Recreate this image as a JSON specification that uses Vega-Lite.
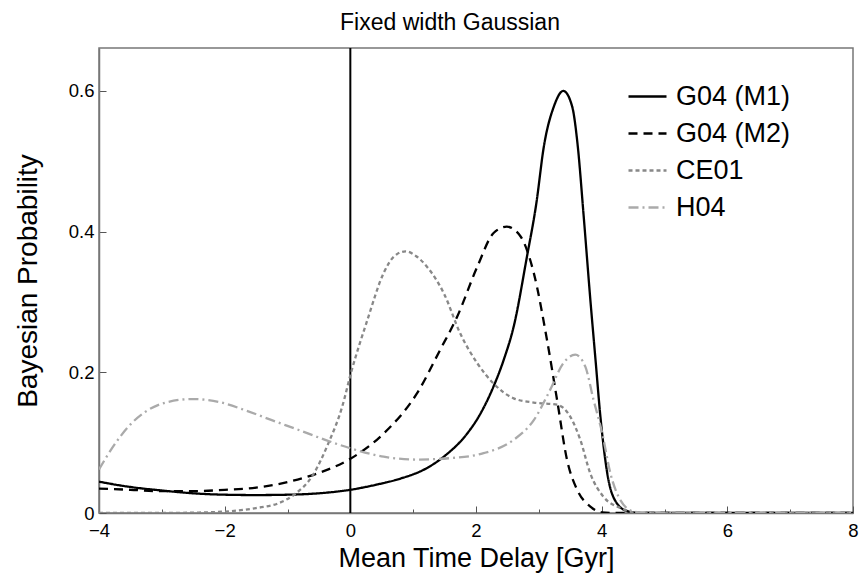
{
  "$schema": "https://vega.github.io/schema/vega-lite/v6.json",
  "width": 754,
  "height": 465,
  "autosize": {"type": "none"},
  "padding": {"left": 99, "top": 48, "right": 8, "bottom": 62},
  "background": "white",
  "config": {
    "font": "Liberation Sans",
    "view": {"stroke": "#777", "strokeWidth": 1.5},
    "axis": {"domainColor": "#777", "domainWidth": 1.5, "tickColor": "#555", "tickWidth": 1, "labelColor": "black", "titleColor": "black", "labelFont": "Liberation Sans", "titleFont": "Liberation Sans", "titleFontWeight": "normal", "grid": false}
  },
  "title": {"text": "Fixed width Gaussian", "fontSize": 23, "fontWeight": "normal", "font": "Liberation Sans", "color": "black", "offset": 12, "dx": -26},
  "datasets": {
    "curves": [
      {"t": -4, "p": 0.0445, "series": "G04 (M1)"},
      {"t": -3.5, "p": 0.037, "series": "G04 (M1)"},
      {"t": -3, "p": 0.032, "series": "G04 (M1)"},
      {"t": -2.5, "p": 0.028, "series": "G04 (M1)"},
      {"t": -2, "p": 0.026, "series": "G04 (M1)"},
      {"t": -1.5, "p": 0.0255, "series": "G04 (M1)"},
      {"t": -1, "p": 0.026, "series": "G04 (M1)"},
      {"t": -0.5, "p": 0.028, "series": "G04 (M1)"},
      {"t": 0, "p": 0.033, "series": "G04 (M1)"},
      {"t": 0.4, "p": 0.04, "series": "G04 (M1)"},
      {"t": 0.8, "p": 0.049, "series": "G04 (M1)"},
      {"t": 1.2, "p": 0.063, "series": "G04 (M1)"},
      {"t": 1.5, "p": 0.081, "series": "G04 (M1)"},
      {"t": 1.86, "p": 0.113, "series": "G04 (M1)"},
      {"t": 2.05, "p": 0.138, "series": "G04 (M1)"},
      {"t": 2.28, "p": 0.18, "series": "G04 (M1)"},
      {"t": 2.45, "p": 0.22, "series": "G04 (M1)"},
      {"t": 2.6, "p": 0.265, "series": "G04 (M1)"},
      {"t": 2.81, "p": 0.364, "series": "G04 (M1)"},
      {"t": 2.96, "p": 0.44, "series": "G04 (M1)"},
      {"t": 3.08, "p": 0.521, "series": "G04 (M1)"},
      {"t": 3.24, "p": 0.578, "series": "G04 (M1)"},
      {"t": 3.39, "p": 0.6, "series": "G04 (M1)"},
      {"t": 3.53, "p": 0.578, "series": "G04 (M1)"},
      {"t": 3.62, "p": 0.521, "series": "G04 (M1)"},
      {"t": 3.71, "p": 0.426, "series": "G04 (M1)"},
      {"t": 3.82, "p": 0.303, "series": "G04 (M1)"},
      {"t": 3.9, "p": 0.22, "series": "G04 (M1)"},
      {"t": 3.98, "p": 0.137, "series": "G04 (M1)"},
      {"t": 4.09, "p": 0.056, "series": "G04 (M1)"},
      {"t": 4.24, "p": 0.014, "series": "G04 (M1)"},
      {"t": 4.4, "p": 0.003, "series": "G04 (M1)"},
      {"t": 4.6, "p": 0, "series": "G04 (M1)"},
      {"t": 8, "p": 0, "series": "G04 (M1)"},

      {"t": -4, "p": 0.0346, "series": "G04 (M2)"},
      {"t": -3.5, "p": 0.033, "series": "G04 (M2)"},
      {"t": -3, "p": 0.031, "series": "G04 (M2)"},
      {"t": -2.5, "p": 0.031, "series": "G04 (M2)"},
      {"t": -2, "p": 0.033, "series": "G04 (M2)"},
      {"t": -1.5, "p": 0.036, "series": "G04 (M2)"},
      {"t": -1, "p": 0.044, "series": "G04 (M2)"},
      {"t": -0.5, "p": 0.057, "series": "G04 (M2)"},
      {"t": 0, "p": 0.077, "series": "G04 (M2)"},
      {"t": 0.53, "p": 0.113, "series": "G04 (M2)"},
      {"t": 1.06, "p": 0.17, "series": "G04 (M2)"},
      {"t": 1.43, "p": 0.232, "series": "G04 (M2)"},
      {"t": 1.7, "p": 0.279, "series": "G04 (M2)"},
      {"t": 2.02, "p": 0.35, "series": "G04 (M2)"},
      {"t": 2.28, "p": 0.398, "series": "G04 (M2)"},
      {"t": 2.49, "p": 0.407, "series": "G04 (M2)"},
      {"t": 2.71, "p": 0.393, "series": "G04 (M2)"},
      {"t": 2.92, "p": 0.341, "series": "G04 (M2)"},
      {"t": 3.13, "p": 0.246, "series": "G04 (M2)"},
      {"t": 3.29, "p": 0.161, "series": "G04 (M2)"},
      {"t": 3.45, "p": 0.075, "series": "G04 (M2)"},
      {"t": 3.61, "p": 0.033, "series": "G04 (M2)"},
      {"t": 3.82, "p": 0.009, "series": "G04 (M2)"},
      {"t": 4.0, "p": 0.001, "series": "G04 (M2)"},
      {"t": 4.2, "p": 0, "series": "G04 (M2)"},
      {"t": 8, "p": 0, "series": "G04 (M2)"},

      {"t": -4, "p": 0, "series": "CE01"},
      {"t": -3, "p": 0, "series": "CE01"},
      {"t": -2.5, "p": 0.0005, "series": "CE01"},
      {"t": -2, "p": 0.002, "series": "CE01"},
      {"t": -1.5, "p": 0.007, "series": "CE01"},
      {"t": -1.14, "p": 0.014, "series": "CE01"},
      {"t": -0.88, "p": 0.027, "series": "CE01"},
      {"t": -0.61, "p": 0.052, "series": "CE01"},
      {"t": -0.35, "p": 0.099, "series": "CE01"},
      {"t": -0.13, "p": 0.151, "series": "CE01"},
      {"t": 0.01, "p": 0.199, "series": "CE01"},
      {"t": 0.27, "p": 0.274, "series": "CE01"},
      {"t": 0.53, "p": 0.341, "series": "CE01"},
      {"t": 0.7, "p": 0.365, "series": "CE01"},
      {"t": 0.88, "p": 0.372, "series": "CE01"},
      {"t": 1.05, "p": 0.365, "series": "CE01"},
      {"t": 1.22, "p": 0.35, "series": "CE01"},
      {"t": 1.49, "p": 0.312, "series": "CE01"},
      {"t": 1.75, "p": 0.255, "series": "CE01"},
      {"t": 2.02, "p": 0.213, "series": "CE01"},
      {"t": 2.28, "p": 0.184, "series": "CE01"},
      {"t": 2.6, "p": 0.163, "series": "CE01"},
      {"t": 2.92, "p": 0.157, "series": "CE01"},
      {"t": 3.29, "p": 0.154, "series": "CE01"},
      {"t": 3.5, "p": 0.137, "series": "CE01"},
      {"t": 3.66, "p": 0.104, "series": "CE01"},
      {"t": 3.82, "p": 0.056, "series": "CE01"},
      {"t": 4.03, "p": 0.023, "series": "CE01"},
      {"t": 4.3, "p": 0.007, "series": "CE01"},
      {"t": 4.5, "p": 0.001, "series": "CE01"},
      {"t": 4.7, "p": 0, "series": "CE01"},
      {"t": 8, "p": 0, "series": "CE01"},

      {"t": -4, "p": 0.062, "series": "H04"},
      {"t": -3.74, "p": 0.099, "series": "H04"},
      {"t": -3.53, "p": 0.123, "series": "H04"},
      {"t": -3.26, "p": 0.144, "series": "H04"},
      {"t": -2.94, "p": 0.157, "series": "H04"},
      {"t": -2.52, "p": 0.162, "series": "H04"},
      {"t": -2.1, "p": 0.158, "series": "H04"},
      {"t": -1.67, "p": 0.146, "series": "H04"},
      {"t": -1.25, "p": 0.132, "series": "H04"},
      {"t": -0.82, "p": 0.118, "series": "H04"},
      {"t": -0.4, "p": 0.104, "series": "H04"},
      {"t": 0, "p": 0.092, "series": "H04"},
      {"t": 0.53, "p": 0.08, "series": "H04"},
      {"t": 1.06, "p": 0.076, "series": "H04"},
      {"t": 1.59, "p": 0.078, "series": "H04"},
      {"t": 2.12, "p": 0.085, "series": "H04"},
      {"t": 2.6, "p": 0.104, "series": "H04"},
      {"t": 2.92, "p": 0.132, "series": "H04"},
      {"t": 3.18, "p": 0.175, "series": "H04"},
      {"t": 3.39, "p": 0.213, "series": "H04"},
      {"t": 3.58, "p": 0.225, "series": "H04"},
      {"t": 3.74, "p": 0.208, "series": "H04"},
      {"t": 3.87, "p": 0.161, "series": "H04"},
      {"t": 4.01, "p": 0.113, "series": "H04"},
      {"t": 4.14, "p": 0.056, "series": "H04"},
      {"t": 4.3, "p": 0.018, "series": "H04"},
      {"t": 4.51, "p": 0.002, "series": "H04"},
      {"t": 4.7, "p": 0, "series": "H04"},
      {"t": 8, "p": 0, "series": "H04"}
    ]
  },
  "layer": [
    {
      "data": {"values": [{"x0": 0}]},
      "mark": {"type": "rule", "color": "black", "strokeWidth": 2},
      "encoding": {
        "x": {"field": "x0", "type": "quantitative", "scale": {"domain": [-4, 8]}}
      }
    },
    {
      "data": {"name": "curves"},
      "mark": {"type": "line", "interpolate": "monotone", "strokeWidth": 2.3, "clip": true},
      "encoding": {
        "x": {
          "field": "t", "type": "quantitative",
          "scale": {"domain": [-4, 8], "nice": false, "zero": false},
          "axis": {
            "title": "Mean Time Delay [Gyr]",
            "titleFontSize": 27,
            "titlePadding": 3,
            "values": [-4, -3.5, -3, -2.5, -2, -1.5, -1, -0.5, 0, 0.5, 1, 1.5, 2, 2.5, 3, 3.5, 4, 4.5, 5, 5.5, 6, 6.5, 7, 7.5, 8],
            "tickSize": {"condition": {"test": "datum.value % 2 === 0", "value": -7}, "value": -4},
            "labelExpr": "datum.value % 2 === 0 ? format(datum.value, 'd') : ''",
            "labelFontSize": 18.5,
            "labelPadding": 15,
            "labelFlush": false,
            "labelOverlap": false
          }
        },
        "y": {
          "field": "p", "type": "quantitative",
          "scale": {"domain": [0, 0.661], "nice": false},
          "axis": {
            "title": "Bayesian Probability",
            "titleFontSize": 28,
            "titlePadding": 26,
            "values": [0, 0.2, 0.4, 0.6],
            "tickSize": -7,
            "labelExpr": "datum.value === 0 ? '0' : format(datum.value, '.1f')",
            "labelFontSize": 18.5,
            "labelPadding": 12,
            "labelFlush": false
          }
        },
        "color": {
          "field": "series", "type": "nominal",
          "scale": {"domain": ["G04 (M1)", "G04 (M2)", "CE01", "H04"], "range": ["#000000", "#000000", "#888888", "#aaaaaa"]},
          "legend": {
            "title": null,
            "orient": "none",
            "legendX": 528,
            "legendY": 28,
            "labelFontSize": 27,
            "labelColor": "black",
            "labelFont": "Liberation Sans",
            "symbolType": "stroke",
            "symbolSize": 1444,
            "symbolStrokeWidth": 2.3,
            "labelOffset": 8,
            "rowPadding": 3
          }
        },
        "strokeDash": {
          "field": "series", "type": "nominal",
          "scale": {"domain": ["G04 (M1)", "G04 (M2)", "CE01", "H04"], "range": [[1, 0], [9, 6], [4, 3], [10, 4, 2, 4]]},
          "legend": {
            "title": null,
            "orient": "none",
            "legendX": 528,
            "legendY": 28,
            "labelFontSize": 27,
            "labelColor": "black",
            "labelFont": "Liberation Sans",
            "symbolType": "stroke",
            "symbolSize": 1444,
            "symbolStrokeWidth": 2.3,
            "labelOffset": 8,
            "rowPadding": 3
          }
        }
      }
    }
  ]
}
